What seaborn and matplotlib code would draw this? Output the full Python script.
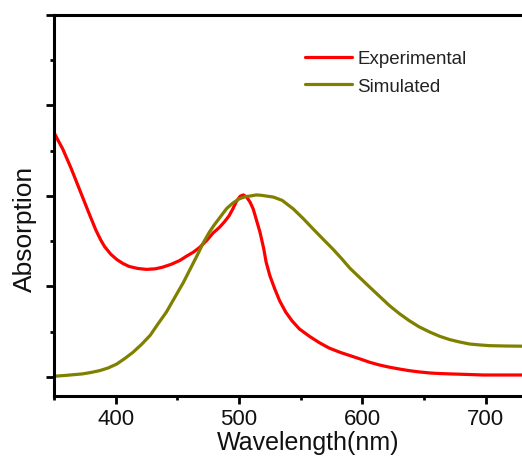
import matplotlib
matplotlib.use("Agg")
import matplotlib.pyplot as plt
import seaborn as sns
import pandas as pd
from matplotlib.ticker import MultipleLocator

exp_wl = [350, 353, 357, 364, 371, 378, 384, 388, 391, 396, 401, 406, 411, 418, 425, 432, 438, 445,
          452, 457, 463, 468, 474, 479, 484, 488, 492, 495, 498, 501, 503.5, 506, 509, 511.5,
          514, 517, 520, 522, 525, 529, 533, 538, 543, 549, 557, 565, 573, 582, 590, 598,
          606, 614, 622, 630, 638, 646, 655, 663, 671, 685, 698, 714, 730]
exp_abs = [1.35, 1.31, 1.26, 1.15, 1.03, 0.91, 0.81, 0.755, 0.72, 0.678, 0.648, 0.626, 0.61, 0.599, 0.594, 0.597, 0.606, 0.622,
           0.643, 0.665, 0.689, 0.715, 0.755, 0.795, 0.825, 0.855, 0.89, 0.928, 0.97, 0.998, 1.005, 0.995, 0.965, 0.928,
           0.87, 0.80, 0.71, 0.634, 0.56, 0.486, 0.42, 0.357, 0.31, 0.265, 0.225, 0.19, 0.16, 0.136, 0.118, 0.10,
           0.081, 0.066, 0.054, 0.044, 0.035, 0.028, 0.022, 0.019, 0.017, 0.014, 0.011, 0.011, 0.011]

sim_wl = [350, 360, 373, 380, 387, 394, 401, 407, 414, 421, 428, 434, 441, 448, 455, 460, 466,
          471, 476, 480, 485, 490, 495, 500, 505, 510, 514, 518, 523, 528, 535, 544, 552, 560,
          568, 576, 583, 590, 598, 606, 614, 622, 630, 638, 646, 655, 663, 671, 679, 687, 695, 703, 716, 730]
sim_abs = [0.004, 0.009, 0.017, 0.025, 0.035, 0.05, 0.072, 0.1, 0.136, 0.18, 0.23, 0.29, 0.357, 0.44, 0.523, 0.59, 0.67,
           0.74, 0.80, 0.84, 0.885, 0.93, 0.96, 0.983, 0.995, 1.0, 1.005, 1.003, 0.998, 0.993, 0.975, 0.928, 0.875, 0.818,
           0.762, 0.707, 0.655, 0.60, 0.548, 0.496, 0.445, 0.394, 0.35, 0.311, 0.277, 0.247, 0.224, 0.206, 0.193, 0.182, 0.177, 0.173, 0.171, 0.17]

series_names = ["Experimental", "Simulated"]
colors = ["#FF0000", "#808000"]

df = pd.concat([
    pd.DataFrame({"wl": exp_wl, "abs": exp_abs, "series": series_names[0]}),
    pd.DataFrame({"wl": sim_wl, "abs": sim_abs, "series": series_names[1]}),
])

sns.set_style("white")
plt.rcParams['font.family'] = ['Liberation Sans', 'DejaVu Sans']

fig = plt.figure(figsize=(5.22, 4.6), dpi=100)
ax = fig.add_axes([54/522, 1-397/460, 400*1.2333/522, (397-15.7)/460])

sns.lineplot(data=df, x="wl", y="abs", hue="series", palette=colors, ax=ax,
             linewidth=2.3, legend=True, sort=True)

ax.set_xlim(350, 750)
ax.set_ylim(-0.105, 2.0)
ax.xaxis.set_major_locator(MultipleLocator(100))
ax.xaxis.set_minor_locator(MultipleLocator(50))
ax.yaxis.set_major_locator(MultipleLocator(0.5))
ax.yaxis.set_minor_locator(MultipleLocator(0.25))
ax.tick_params(axis='both', which='major', direction='out', length=5.5, width=2,
               color='black', labelsize=16, bottom=True, left=True, pad=3)
ax.tick_params(axis='both', which='minor', direction='out', length=3, width=2,
               color='black', bottom=True, left=True)
ax.tick_params(axis='y', which='both', labelleft=False)
for lbl in ax.get_xticklabels():
    lbl.set_color('#111111')
for s in ['left', 'bottom', 'top', 'right']:
    ax.spines[s].set_linewidth(2.2)
    ax.spines[s].set_color('black')

ax.set_xlabel("Wavelength(nm)", fontsize=18, color='#111111')
ax.xaxis.label.set_va('baseline')
ax.xaxis.set_label_coords(0.516, (397-450)/381.3)
ax.set_ylabel("Absorption", fontsize=19, color='#111111')
ax.yaxis.label.set_va('center')
ax.yaxis.set_label_coords((25-54)/493.3, (397-229)/381.3)

leg = ax.legend(loc='upper left', bbox_to_anchor=(305/522, 1-51/460),
                bbox_transform=fig.transFigure, frameon=False, fontsize=13.5,
                handlelength=2.5, handletextpad=0.3, labelspacing=0.55, borderaxespad=0,
                borderpad=0)
for t in leg.get_texts():
    t.set_color('#222222')
for l in leg.get_lines():
    l.set_linewidth(2.3)

fig.savefig("out.png", dpi=100)
